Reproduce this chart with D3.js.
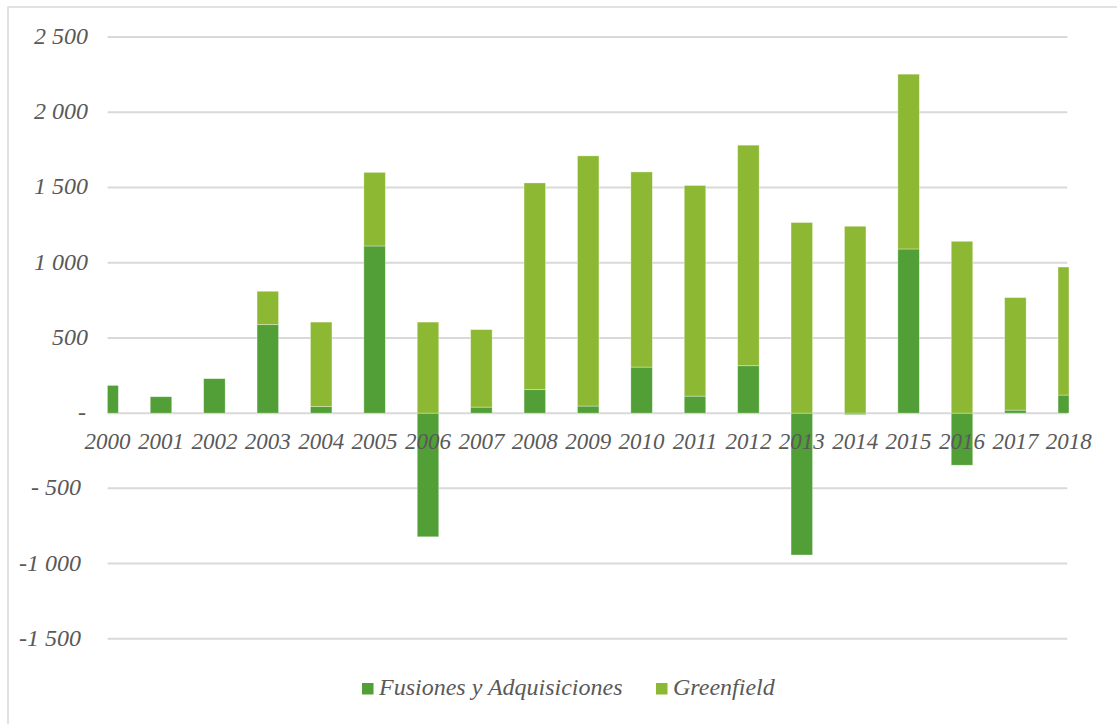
<!DOCTYPE html>
<html>
<head>
<meta charset="utf-8">
<script src="https://cdn.jsdelivr.net/npm/d3@7"></script>
<style>
  html, body { margin: 0; padding: 0; background: #fff; }
  svg { display: block; }
</style>
</head>
<body>
<svg id="chart" width="1117" height="724"></svg>
<script>
// Inversión extranjera por modalidad (2000-2018)
const years = ["2000","2001","2002","2003","2004","2005","2006","2007","2008","2009",
               "2010","2011","2012","2013","2014","2015","2016","2017","2018"];
const fusiones   = [184, 109, 229, 588, 43, 1111, -822, 40, 156, 47, 306, 113, 315, -943, -10, 1091, -346, 20, 120];
const greenfield = [0, 0, 0, 222, 562, 489, 605, 515, 1374, 1663, 1297, 1400, 1466, 1267, 1242, 1162, 1142, 748, 851];
const yTicks = [-1500, -1000, -500, 0, 500, 1000, 1500, 2000, 2500];
const seriesNames = ["Fusiones y Adquisiciones", "Greenfield"];
const seriesColors = ["#529e37", "#8db833"];

const FONT = "'Liberation Serif', 'Times New Roman', Tinos, 'DejaVu Serif', serif";
const TEXT_COLOR = "#595959";

const svg = d3.select("#chart");

// outer frame
svg.append("rect")
  .attr("x", 8).attr("y", 7).attr("width", 1200).attr("height", 800)
  .attr("fill", "none").attr("stroke", "#d9d9d9").attr("stroke-width", 1.5);

const plotLeft = 107.6, plotRight = 1068.8;
const x = d3.scalePoint().domain(years).range([plotLeft, plotRight]);
const y = d3.scaleLinear().domain([-1500, 2500]).range([638.8, 37]);
const barW = 21.5;

// plot clip (bars at the ends are cut at the plot edges)
svg.append("defs").append("clipPath").attr("id", "plotClip")
  .append("rect").attr("x", plotLeft).attr("y", 0)
  .attr("width", plotRight - plotLeft).attr("height", 724);

// gridlines
svg.append("g").selectAll("line").data(yTicks).join("line")
  .attr("x1", plotLeft).attr("x2", plotRight - 1.5)
  .attr("y1", d => y(d)).attr("y2", d => y(d))
  .attr("stroke", "#d9d9d9").attr("stroke-width", 2);

// y-axis labels in accounting style
const fmtTick = d => {
  if (d === 0) return "-";
  const s = d3.format(",")(Math.abs(d)).replace(/,/g, " ");
  if (d < 0) return (Math.abs(d) < 1000 ? "- " : "-") + s;
  return s;
};
const styleText = sel => sel
  .attr("font-family", FONT).attr("font-style", "italic").attr("fill", TEXT_COLOR);

svg.append("g").selectAll("text").data(yTicks).join("text")
  .call(styleText)
  .attr("x", d => d > 0 ? 88 : (d === 0 ? 86 : 81))
  .attr("y", d => y(d) + 7)
  .attr("text-anchor", "end")
  .attr("font-size", 24)
  .text(fmtTick);

// stacked bars: positives stack upward from zero, negatives downward
const bars = [];
years.forEach((yr, i) => {
  let pos = 0, neg = 0;
  [fusiones[i], greenfield[i]].forEach((v, s) => {
    if (v === 0) return;
    let y0, y1;
    if (v > 0) { y0 = pos; y1 = pos + v; pos = y1; }
    else { y0 = neg; y1 = neg + v; neg = y1; }
    bars.push({ year: yr, s, y0, y1 });
  });
});

svg.append("g").attr("clip-path", "url(#plotClip)")
  .selectAll("rect").data(bars).join("rect")
  .attr("x", d => x(d.year) - barW / 2)
  .attr("width", barW)
  .attr("y", d => y(Math.max(d.y0, d.y1)))
  .attr("height", d => Math.abs(y(d.y0) - y(d.y1)))
  .attr("fill", d => seriesColors[d.s])
  .attr("stroke", "#ffffff").attr("stroke-opacity", 0.45).attr("stroke-width", 0.75);

// category labels
svg.append("g").selectAll("text").data(years).join("text")
  .call(styleText)
  .attr("x", d => x(d))
  .attr("y", y(0) + 35.5)
  .attr("text-anchor", "middle")
  .attr("font-size", 23)
  .text(d => d);

// legend
const legend = svg.append("g");
const legendX = [362, 656];
seriesNames.forEach((name, i) => {
  legend.append("rect")
    .attr("x", legendX[i]).attr("y", 683).attr("width", 11.5).attr("height", 11.5)
    .attr("fill", seriesColors[i]);
  legend.append("text")
    .call(styleText)
    .attr("x", legendX[i] + 17).attr("y", 695)
    .attr("font-size", 24)
    .text(name);
});
</script>
</body>
</html>
